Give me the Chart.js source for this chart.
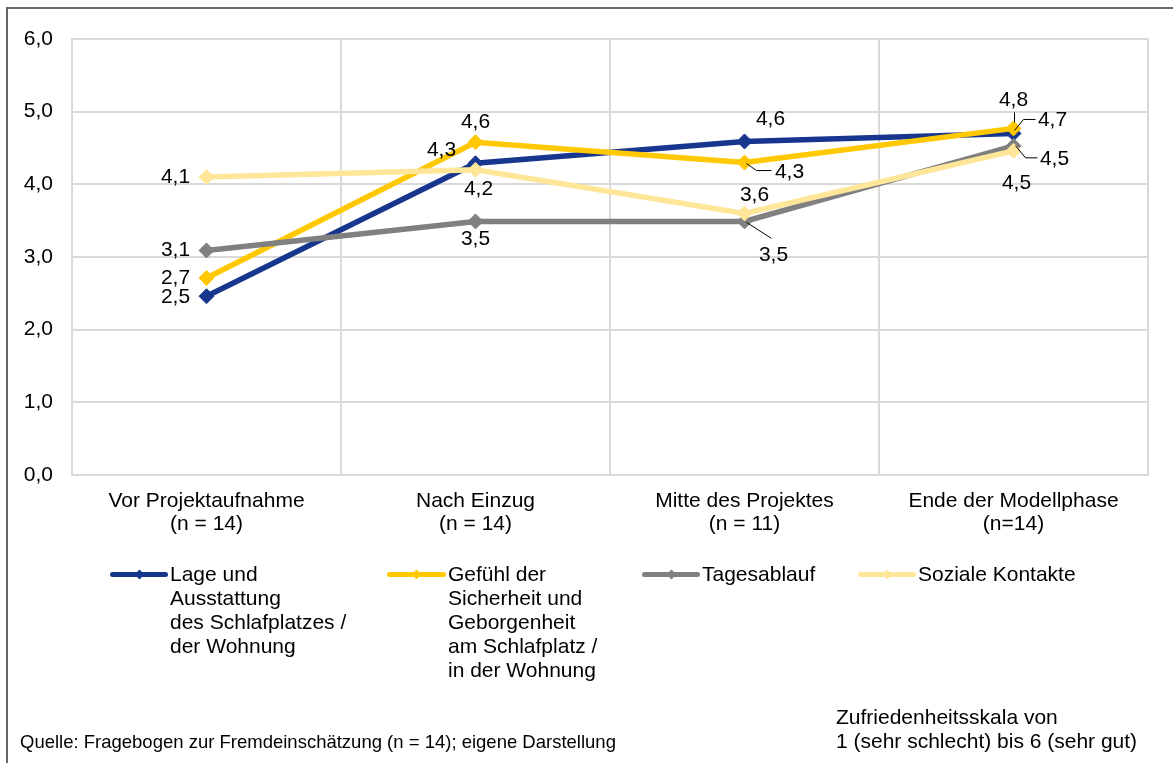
<!DOCTYPE html>
<html>
<head>
<meta charset="utf-8">
<script src="https://cdn.jsdelivr.net/npm/chart.js@4/dist/chart.umd.min.js"></script>
<style>
  html, body { margin:0; padding:0; background:#fff; }
  body { width:1173px; height:763px; overflow:hidden; position:relative; font-family:'Liberation Sans', Arial, sans-serif; color:#000; }
  #frame { position:absolute; left:6px; top:7px; width:1400px; height:1000px; border-top:2px solid #666; border-left:2px solid #666; }
  #wrap { position:absolute; left:0; top:0; width:1173px; height:763px; }
  .leg { position:absolute; font-size:21px; line-height:24px; white-space:nowrap; }
  .sample { position:absolute; height:5px; border-radius:3px; }
  .dia { position:absolute; width:7px; height:7px; transform:rotate(45deg); }
  .note { position:absolute; white-space:nowrap; }
</style>
</head>
<body>
<div id="frame"></div>
<div id="wrap"><canvas id="c"></canvas></div>
<div id="legend"></div>
<div class="note" style="left:20px; top:731px; font-size:18.5px; line-height:22px;">Quelle: Fragebogen zur Fremdeinschätzung (n = 14); eigene Darstellung</div>
<div class="note" style="left:836px; top:705px; font-size:21px; line-height:24px;">Zufriedenheitsskala von<br>1 (sehr schlecht) bis 6 (sehr gut)</div>
<script>
// ---- data ----
const categories = [
  ["Vor Projektaufnahme", "(n = 14)"],
  ["Nach Einzug", "(n = 14)"],
  ["Mitte des Projektes", "(n = 11)"],
  ["Ende der Modellphase", "(n=14)"]
];
const seriesNames = [
  ["Lage und", "Ausstattung", "des Schlafplatzes /", "der Wohnung"],
  ["Gefühl der", "Sicherheit und", "Geborgenheit", "am Schlafplatz /", "in der Wohnung"],
  ["Tagesablauf"],
  ["Soziale Kontakte"]
];
const lageValues      = [2.46, 4.29, 4.59, 4.70];
const gefuehlValues   = [2.71, 4.58, 4.30, 4.77];
const tagesValues     = [3.09, 3.49, 3.49, 4.53];
const sozialeValues   = [4.10, 4.20, 3.60, 4.46];
const yTickValues = [0, 1, 2, 3, 4, 5, 6];

// ---- styling / label placement (not data) ----
const colors = ['#17378F', '#FFC800', '#808080', '#FFE699'];
const legendX = [[110, 170], [387, 448], [642, 702], [858, 918]];
// [dx, dy, leader polyline relative to point or null]
const labelPlacement = [
  [[-31, 1, null], [-34, -13, null], [26, -22, null], [39, -13, [[1,-3],[10,-14],[22,-14]]]],
  [[-31, 0, null], [0, -20, null], [45, 10, [[2,1],[12,8],[27,8]]], [0, -28, [[1,-16],[1,-6]]]],
  [[-31, 0, null], [0, 18, null], [29, 34, [[2,1],[27,17]]], [41, 13, [[2,0],[12,12],[24,12]]]],
  [[-31, 0, null], [3, 19, null], [10, -18, null], [3, 32, null]]
];

const allValues = [lageValues, gefuehlValues, tagesValues, sozialeValues];

const fmt = v => v.toFixed(1).replace('.', ',');

const datasets = allValues.map((vals, i) => ({
  label: seriesNames[i].join(' '),
  data: vals,
  borderColor: colors[i],
  backgroundColor: colors[i],
  borderWidth: 5.5,
  pointStyle: 'rectRot',
  pointRadius: 7.5,
  pointBorderWidth: 1,
  pointBorderColor: colors[i],
  pointBackgroundColor: colors[i],
  tension: 0,
  order: 4 - i
}));

const labelPlugin = {
  id: 'valueLabels',
  afterDatasetsDraw(chart) {
    const ctx = chart.ctx;
    ctx.save();
    ctx.font = "21px 'Liberation Sans', Arial, sans-serif";
    ctx.fillStyle = '#000';
    ctx.textAlign = 'center';
    ctx.textBaseline = 'middle';
    chart.data.datasets.forEach((ds, di) => {
      const meta = chart.getDatasetMeta(di);
      meta.data.forEach((pt, pi) => {
        const [dx, dy, leader] = labelPlacement[di][pi];
        if (leader) {
          ctx.beginPath();
          ctx.strokeStyle = '#000';
          ctx.lineWidth = 1;
          leader.forEach(([lx, ly], k) => {
            if (k === 0) ctx.moveTo(pt.x + lx, pt.y + ly); else ctx.lineTo(pt.x + lx, pt.y + ly);
          });
          ctx.stroke();
        }
        ctx.fillText(fmt(ds.data[pi]), pt.x + dx, pt.y + dy);
      });
    });
    ctx.restore();
  }
};

new Chart(document.getElementById('c'), {
  type: 'line',
  data: { labels: categories, datasets },
  options: {
    responsive: true,
    maintainAspectRatio: false,
    animation: false,
    devicePixelRatio: 1,
    layout: { padding: { left: 0, top: 39, right: 25, bottom: 208 } },
    plugins: { legend: { display: false }, tooltip: { enabled: false } },
    scales: {
      x: {
        offset: true,
        grid: { offset: true, color: '#D9D9D9', lineWidth: 2, drawTicks: false },
        border: { display: true, color: '#D9D9D9', width: 2 },
        ticks: { color: '#000', padding: 15, maxRotation: 0, autoSkip: false,
          font: { family: "'Liberation Sans', Arial, sans-serif", size: 21, lineHeight: 1.1 } },
        afterFit(scale) { scale.height = 80; }
      },
      y: {
        min: 0, max: 6,
        afterBuildTicks(scale) { scale.ticks = yTickValues.map(v => ({ value: v })); },
        grid: { color: '#D9D9D9', lineWidth: 2, drawTicks: false },
        border: { display: true, color: '#D9D9D9', width: 2 },
        ticks: { color: '#000', padding: 19, callback: v => fmt(v),
          font: { family: "'Liberation Sans', Arial, sans-serif", size: 21 } },
        afterFit(scale) { scale.width = 72; }
      }
    }
  },
  plugins: [labelPlugin]
});

// ---- HTML legend ----
const legend = document.getElementById('legend');
seriesNames.forEach((lines, i) => {
  const [sx, tx] = legendX[i];
  const s = document.createElement('div');
  s.className = 'sample';
  s.style.left = sx + 'px'; s.style.top = '572px'; s.style.width = (tx - sx - 2) + 'px';
  s.style.background = colors[i];
  legend.appendChild(s);
  const d = document.createElement('div');
  d.className = 'dia';
  d.style.left = (sx + (tx - sx - 2) / 2 - 3.5) + 'px'; d.style.top = '571px';
  d.style.background = colors[i];
  legend.appendChild(d);
  const t = document.createElement('div');
  t.className = 'leg';
  t.style.left = tx + 'px'; t.style.top = '562px';
  t.innerHTML = lines.join('<br>');
  legend.appendChild(t);
});
</script>
</body>
</html>
